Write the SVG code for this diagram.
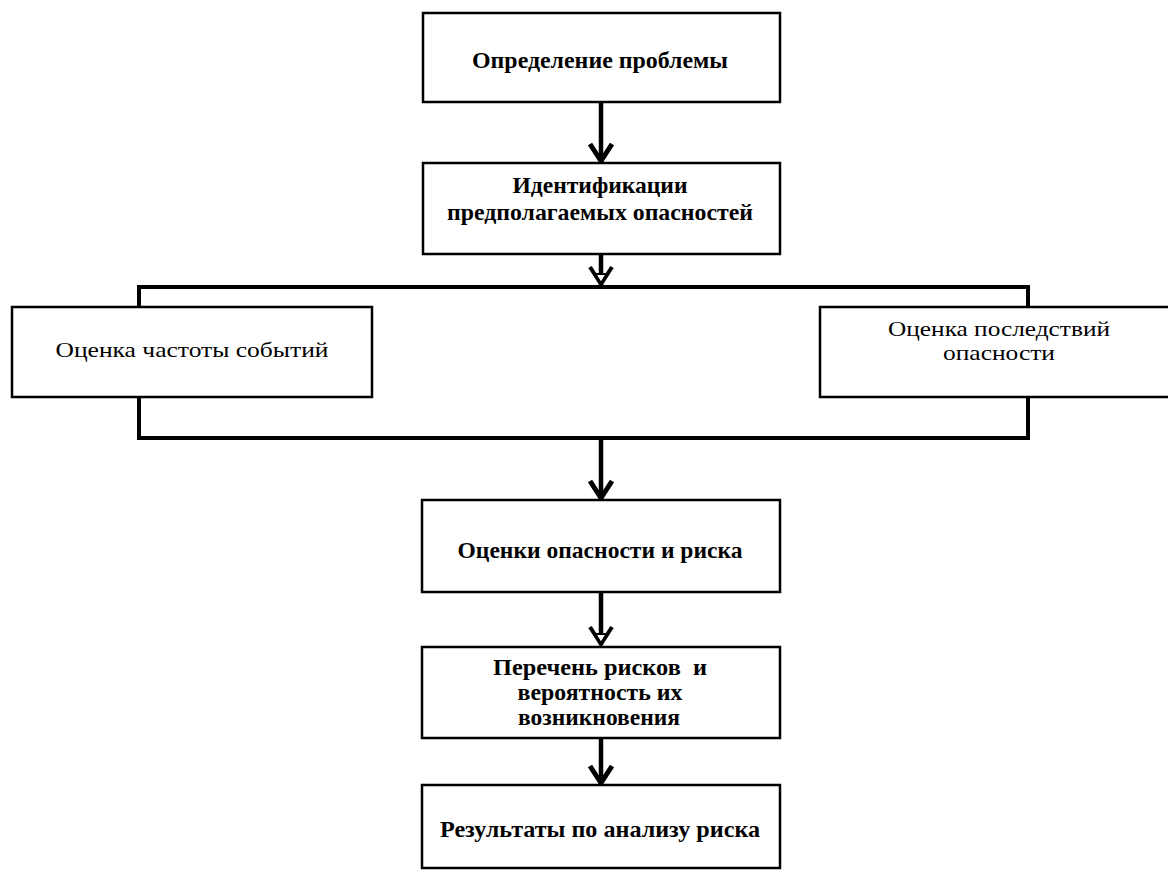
<svg xmlns="http://www.w3.org/2000/svg" width="1168" height="871" viewBox="0 0 1168 871">
  <style>
    .box { fill: #ffffff; stroke: #000000; stroke-width: 2.5; }
    .tb { font-family: "Liberation Serif", "Times New Roman", serif; font-weight: bold; font-size: 24px; fill: #000000; text-anchor: middle; }
    .tr { font-family: "Liberation Serif", "Times New Roman", serif; font-size: 22px; fill: #000000; text-anchor: middle; }
    .wire { fill: none; stroke: #000000; stroke-width: 4; stroke-linecap: square; }
    .shaft { fill: none; stroke: #000000; stroke-width: 4.5; }
  </style>
  <defs>
    <marker id="chev" markerUnits="userSpaceOnUse" markerWidth="30" markerHeight="30" refX="0" refY="0" orient="auto" overflow="visible">
      <path d="M-18,-11 L-1,0 L-18,11" fill="none" stroke="#000" stroke-width="5" stroke-linejoin="miter"/>
    </marker>
    <marker id="chevh" markerUnits="userSpaceOnUse" markerWidth="30" markerHeight="30" refX="0" refY="0" orient="auto" overflow="visible">
      <path d="M-18,-11 L-1,0 L-18,11" fill="none" stroke="#000" stroke-width="4" stroke-linejoin="miter"/>
      <path d="M-11,-5.5 L-2,0 L-11,5.5 Z" fill="#fff" stroke="#000" stroke-width="1.8"/>
    </marker>
  </defs>

  <g id="connectors">
    <line class="shaft" x1="601" y1="102" x2="601" y2="162" marker-end="url(#chev)"/>
    <line class="shaft" x1="601" y1="254" x2="601" y2="285" marker-end="url(#chevh)"/>
    <polyline class="wire" points="139,307 139,287 1028,287 1028,307"/>
    <polyline class="wire" points="139,397 139,438 1028,438 1028,397"/>
    <line class="shaft" x1="601" y1="438" x2="601" y2="499" marker-end="url(#chev)"/>
    <line class="shaft" x1="601" y1="592" x2="601" y2="645" marker-end="url(#chevh)"/>
    <line class="shaft" x1="601" y1="738" x2="601" y2="784" marker-end="url(#chev)"/>
  </g>

  <g id="node-problem">
    <rect class="box" x="423" y="13" width="357" height="89"/>
    <text class="tb" x="600" y="68" textLength="256" lengthAdjust="spacingAndGlyphs">Определение проблемы</text>
  </g>

  <g id="node-identification">
    <rect class="box" x="423" y="163" width="357" height="91"/>
    <text class="tb" x="600" y="193" textLength="175" lengthAdjust="spacingAndGlyphs">Идентификации</text>
    <text class="tb" x="600" y="220" textLength="306" lengthAdjust="spacingAndGlyphs">предполагаемых опасностей</text>
  </g>

  <g id="node-frequency">
    <rect class="box" x="12" y="307" width="360" height="90"/>
    <text class="tr" x="192" y="357" textLength="273" lengthAdjust="spacingAndGlyphs">Оценка частоты событий</text>
  </g>

  <g id="node-consequences">
    <rect class="box" x="820" y="307" width="360" height="90"/>
    <text class="tr" x="999" y="336" textLength="222" lengthAdjust="spacingAndGlyphs">Оценка последствий</text>
    <text class="tr" x="999" y="360" textLength="112" lengthAdjust="spacingAndGlyphs">опасности</text>
  </g>

  <g id="node-assessment">
    <rect class="box" x="422" y="500" width="358" height="92"/>
    <text class="tb" x="600" y="558" textLength="285" lengthAdjust="spacingAndGlyphs">Оценки опасности и риска</text>
  </g>

  <g id="node-risklist">
    <rect class="box" x="422" y="647" width="358" height="91"/>
    <text class="tb" x="600" y="675" textLength="214" lengthAdjust="spacingAndGlyphs" xml:space="preserve">Перечень рисков  и</text>
    <text class="tb" x="600" y="700" textLength="165" lengthAdjust="spacingAndGlyphs">вероятность их</text>
    <text class="tb" x="599" y="725" textLength="162" lengthAdjust="spacingAndGlyphs">возникновения</text>
  </g>

  <g id="node-results">
    <rect class="box" x="422" y="785" width="358" height="83"/>
    <text class="tb" x="600" y="837" textLength="320" lengthAdjust="spacingAndGlyphs">Результаты по анализу риска</text>
  </g>
</svg>
